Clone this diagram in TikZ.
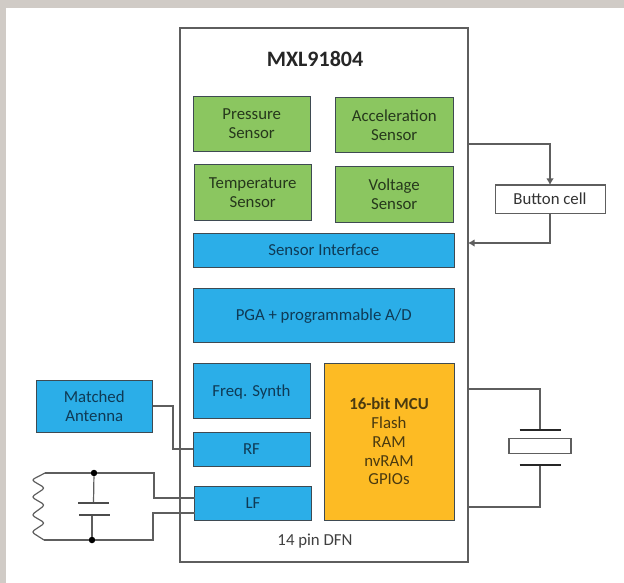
\documentclass[tikz,border=0pt]{standalone}
\usepackage{fontspec}
\setmainfont{Carlito}
\usepackage{tikz}
\usetikzlibrary{arrows.meta,positioning}
\definecolor{gnfill}{HTML}{8BC660}
\definecolor{blfill}{HTML}{2BAEE8}
\definecolor{ylfill}{HTML}{FDBB24}
\definecolor{edge}{HTML}{3E4A52}
\definecolor{wire}{HTML}{5E5E5E}
\definecolor{strip}{HTML}{D0CBC6}
\definecolor{inkgn}{HTML}{26381C}
\definecolor{inkbl}{HTML}{0F3A55}
\definecolor{inkyl}{HTML}{4A3A10}
\begin{document}
\begin{tikzpicture}[x=1pt, y=-1pt,
  bx/.style={draw=edge, line width=1pt, align=center, outer sep=0pt, inner sep=0pt,
             text depth=0pt, font=\fontsize{16.8}{18.8}\selectfont},
  gn/.style={bx, fill=gnfill, text=inkgn, minimum width=117.5pt, minimum height=55pt},
  bl/.style={bx, fill=blfill, text=inkbl, minimum width=117pt},
  ar/.style={wr, -{Latex[length=6.5pt,width=7.5pt]}},
  wr/.style={draw=wire, line width=1.2pt},
  plate/.style={draw=black!85, line width=1.6pt},
  dot/.style={circle, fill=black, minimum size=6.5pt, inner sep=0pt}]
\fill[strip] (0,0) rectangle (624,583);
\fill[white] (6,8) rectangle (624,583);
\node[draw=wire, line width=1.4pt, minimum width=288pt, minimum height=534pt, outer sep=0pt] (chip) at (324,295) {};
\node[font=\fontsize{22}{24}\selectfont\bfseries, text=black!85] (title) at (315,59) {MXL91804};
\node[gn] (pressure) at (251.75,124) {Pressure\\Sensor};
\node[gn, right=25pt of pressure, yshift=-1.5pt] (accel) {Acceleration\\Sensor};
\node[gn, below=13.5pt of pressure, xshift=1pt] (temp) {Temperature\\Sensor};
\node[gn, below=14pt of accel] (volt) {Voltage\\Sensor};
\node[bl, minimum width=261.5pt, minimum height=34pt] (iface) at (323.75,250) {Sensor Interface};
\node[bl, minimum width=261.5pt, minimum height=54pt, below=21pt of iface] (pga) {PGA + programmable A/D};
\node[bl, minimum height=55pt] (freq) at (251.5,390.5) {Freq. Synth};
\node[bl, minimum height=34pt, below=14pt of freq] (rf) {RF};
\node[bl, minimum height=34pt, below=20.5pt of rf, xshift=1.5pt] (lf) {LF};
\node[bx, fill=ylfill, text=inkyl, minimum width=130pt, minimum height=157pt] (mcu) at (389,441.5) {\textbf{16-bit MCU}\\Flash\\RAM\\nvRAM\\GPIOs};
\node[font=\fontsize{16.8}{18}\selectfont, text=black!75] (pkg) at (315,541) {14 pin DFN};
\node[bl, minimum width=116.5pt, minimum height=52pt] (antenna) at (94.25,406) {Matched\\Antenna};
\node[bx, draw=wire, fill=white, text=black!80, minimum width=110pt, minimum height=28pt] (button) at (550,199) {Button cell};
\node[draw=wire, line width=1.4pt, fill=white, minimum width=62pt, minimum height=14.5pt, outer sep=0pt] (xtal) at (540,446) {};
\coordinate (battop) at (468,144);
\coordinate (batbot) at (468,243);
\coordinate (mcutop) at (468,389);
\coordinate (mcubot) at (468,507);
\coordinate (xtalup) at (540,430);
\coordinate (xtaldn) at (540,465);
\coordinate (lfup) at (194.5,498);
\coordinate (lfdn) at (194.5,513);
\coordinate (coilup) at (45,473);
\coordinate (coildn) at (44,540);
\coordinate (capup) at (93.5,503);
\coordinate (capdn) at (92,515);
\node[dot] (nodeup) at (94,473) {};
\node[dot] (nodedn) at (92,540) {};
\draw[ar] (battop) -| (button.north);
\draw[ar] (button.south) |- (batbot);
\draw[wr] (antenna.east) -- ++(20.5,0) |- (rf.west);
\draw[wr] (mcutop) -| (xtalup);
\draw[wr] (mcubot) -| (xtaldn);
\draw[plate] (xtalup) ++(-20.5,0) -- ++(41,0);
\draw[plate] (xtaldn) ++(-20.5,0) -- ++(41,0);
\draw[wr] (nodeup) -- (capup);
\draw[wr] (nodedn) -- (capdn);
\draw[plate, draw=black!70] (capup) ++(-15.5,0) -- ++(31,0);
\draw[plate, draw=black!70] (capdn) ++(-13,0) -- ++(31,0);
\draw[wr] (coilup) -- (nodeup) -- (154,473) |- (lfup);
\draw[wr] (coildn) -- (nodedn) -- (153,540) |- (lfdn);
\draw[wr, rounded corners=3pt] (coilup) -- (31.5,480) -- (45,488) -- (31.5,497) -- (45,505) -- (31.5,515) -- (45,523) -- (31.5,532) -- (coildn);
\end{tikzpicture}
\end{document}
